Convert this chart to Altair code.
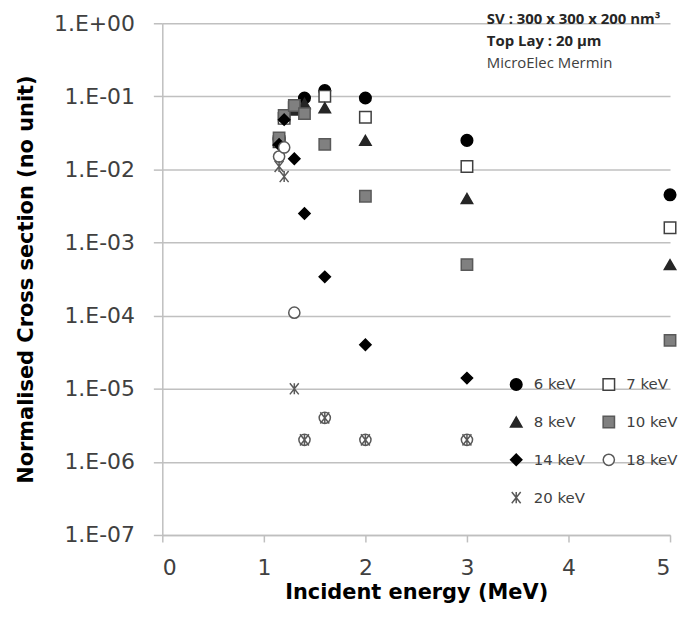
import altair as alt
import pandas as pd

series_names = ["6 keV", "7 keV", "8 keV", "10 keV", "14 keV", "18 keV", "20 keV"]

x_6 = [1.15, 1.4, 1.6, 2, 3, 5]
y_6 = [0.026, 0.095, 0.12, 0.095, 0.025, 0.0045]
x_7 = [1.15, 1.2, 1.3, 1.6, 2, 3, 5]
y_7 = [0.024, 0.05, 0.07, 0.1, 0.052, 0.011, 0.0016]
x_8 = [1.15, 1.3, 1.4, 1.6, 2, 3, 5]
y_8 = [0.025, 0.065, 0.08, 0.07, 0.025, 0.004, 0.0005]
x_10 = [1.15, 1.2, 1.3, 1.4, 1.6, 2, 3, 5]
y_10 = [0.027, 0.055, 0.075, 0.058, 0.022, 0.0043, 0.0005, 0.000046]
x_14 = [1.15, 1.2, 1.3, 1.4, 1.6, 2, 3]
y_14 = [0.022, 0.048, 0.014, 0.0025, 0.00034, 0.00004, 0.000014]
x_18 = [1.15, 1.2, 1.3, 1.4, 1.6, 2, 3]
y_18 = [0.015, 0.02, 0.00011, 2e-6, 4e-6, 2e-6, 2e-6]
x_20 = [1.15, 1.2, 1.3, 1.4, 1.6, 2, 3]
y_20 = [0.011, 0.008, 1e-5, 2e-6, 4e-6, 2e-6, 2e-6]

xs = [x_6, x_7, x_8, x_10, x_14, x_18, x_20]
ys = [y_6, y_7, y_8, y_10, y_14, y_18, y_20]

y_ticks = [1e-7, 1e-6, 1e-5, 1e-4, 1e-3, 1e-2, 1e-1, 1]
x_ticks = [0, 1, 2, 3, 4, 5]

annot_lines = ["SV : 300 x 300 x 200 nm³", "Top Lay : 20 µm", "MicroElec Mermin"]
annot_bold = [True, True, False]

rows = []
for name, xv, yv in zip(series_names, xs, ys):
    for a, b in zip(xv, yv):
        rows.append({"series": name, "energy": a, "cs": b})
df = pd.DataFrame(rows)

star = "M-0.8,-1L0.8,1M-0.8,1L0.8,-1M0,-1L0,1"
shapes = ["circle", "square", "triangle-up", "square", "diamond", "circle", star]
fills = ["#000000", "#ffffff", "#262626", "#808080", "#000000", "#ffffff", "transparent"]
strokes = ["#000000", "#404040", "#262626", "#595959", "#000000", "#595959", "#595959"]
sizes = [135, 125, 90, 125, 55, 115, 115]

FONT = "DejaVu Sans"
AFONT = "Open Sans"

leg = alt.Legend(title=None)

points = alt.Chart(df).mark_point(filled=False, strokeWidth=1.5, opacity=1).encode(
    x=alt.X("energy:Q", scale=alt.Scale(domain=[0, 5], nice=False),
            axis=alt.Axis(values=x_ticks, title="Incident energy (MeV)", grid=False,
                          format="d", tickSize=7, labelPadding=16, titlePadding=3)),
    y=alt.Y("cs:Q", scale=alt.Scale(type="log", domain=[1e-7, 1], nice=False),
            axis=alt.Axis(values=y_ticks, title="Normalised Cross section (no unit)",
                          tickSize=9, labelPadding=19, titlePadding=17,
                          labelExpr="'1.E' + (datum.value >= 1 ? '+' : '-') + '0' + abs(round(log(datum.value)/LN10))")),
    shape=alt.Shape("series:N", scale=alt.Scale(domain=series_names, range=shapes), legend=leg),
    fill=alt.Fill("series:N", scale=alt.Scale(domain=series_names, range=fills), legend=leg),
    stroke=alt.Stroke("series:N", scale=alt.Scale(domain=series_names, range=strokes), legend=leg),
    size=alt.Size("series:N", scale=alt.Scale(domain=series_names, range=sizes), legend=leg),
)

annot_df = pd.DataFrame({"t": annot_lines, "i": [0, 1, 2], "b": annot_bold})
annot_base = alt.Chart(annot_df).encode(
    text="t:N",
    x=alt.value(326),
    y=alt.Y("i:Q", scale=alt.Scale(domain=[0, 2], range=[-4, 40]), axis=None),
)
annot_b = annot_base.transform_filter("datum.b").mark_text(
    align="left", baseline="middle", font=AFONT, fontSize=15, fontWeight="bold", color="#262626")
annot_n = annot_base.transform_filter("!datum.b").mark_text(
    align="left", baseline="middle", font=AFONT, fontSize=15, color="#404040")

chart = alt.layer(points, annot_b, annot_n).resolve_scale(y="independent").properties(
    width=510, height=514,
    autosize=alt.AutoSizeParams(type="none"),
    padding={"left": 155, "top": 14, "right": 8, "bottom": 70},
).configure_view(stroke=None).configure_axis(
    labelFont=FONT, titleFont=FONT, labelFontSize=22, titleFontSize=21,
    labelColor="#404040", titleColor="#000000", titleFontWeight="bold",
    gridColor="#C0C0C0", gridWidth=1.5, domainColor="#BFBFBF", domainWidth=1.5,
    tickColor="#BFBFBF", tickWidth=1.5,
).configure_axisY(grid=True).configure_legend(
    orient="none", legendX=348, legendY=355, columns=2, direction="horizontal",
    rowPadding=19, columnPadding=14, labelFont=FONT, labelFontSize=15,
    labelColor="#404040", symbolStrokeWidth=1.5, labelOffset=10,
)

chart.save("out.html", embed_options={"renderer": "svg", "actions": False})
